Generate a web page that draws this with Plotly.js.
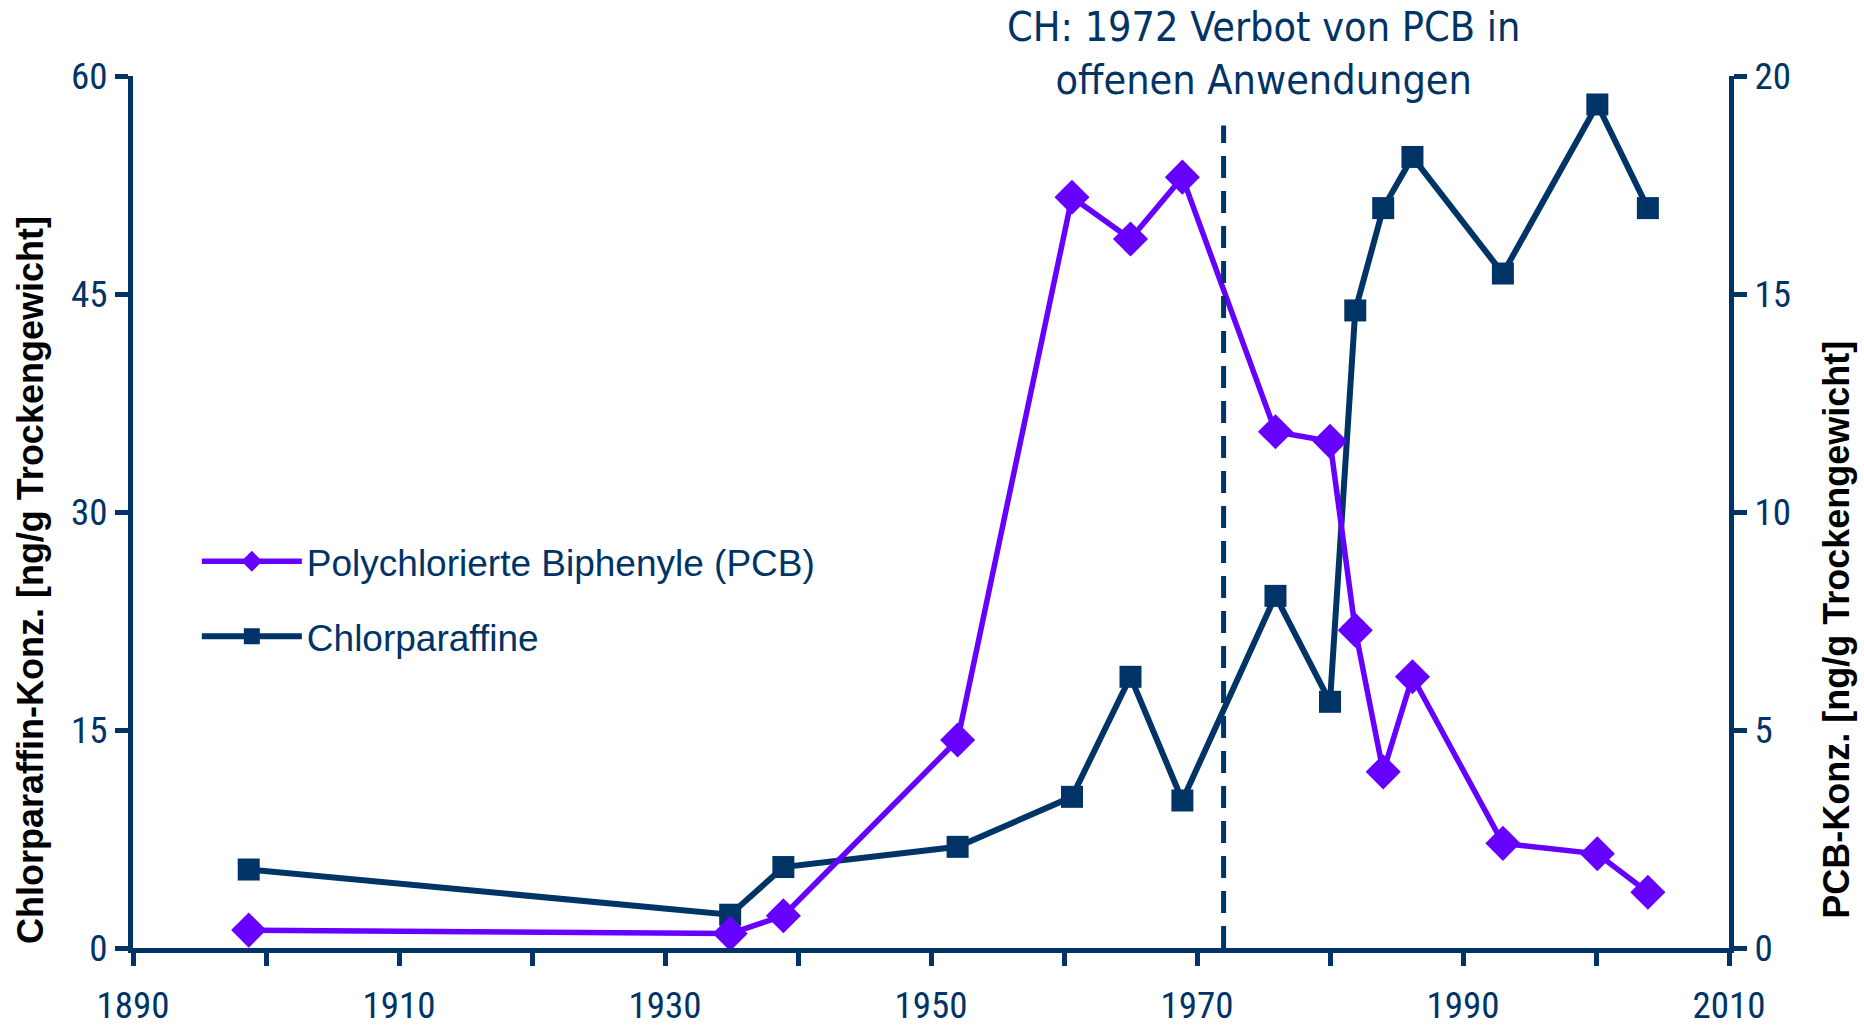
<!DOCTYPE html>
<html>
<head>
<meta charset="utf-8">
<script src="https://cdn.plot.ly/plotly-3.0.1.min.js"></script>
<style>html,body{margin:0;padding:0;background:#fff;}#chart{width:1864px;height:1029px;}</style>
</head>
<body>
<div id="chart"></div>
<script>
// Data
const years = [1898.7, 1934.9, 1938.9, 1952.0, 1960.6, 1965.0, 1968.9, 1975.9, 1980.0, 1981.9, 1984.0, 1986.2, 1993.0, 2000.1, 2003.9];
const pcbValues = [0.41, 0.33, 0.74, 4.77, 17.22, 16.26, 17.68, 11.84, 11.62, 7.29, 4.04, 6.22, 2.40, 2.16, 1.28];
const chlorparaffinValues = [5.40, 2.29, 5.57, 6.96, 10.40, 18.66, 10.15, 24.23, 16.94, 43.87, 50.91, 54.43, 46.41, 58.04, 50.91];
const xTickVals = [1890, 1900, 1910, 1920, 1930, 1940, 1950, 1960, 1970, 1980, 1990, 2000, 2010];
const xTickText = ['1890', '', '1910', '', '1930', '', '1950', '', '1970', '', '1990', '', '2010'];
const leftTicks = [0, 15, 30, 45, 60];
const rightTicks = [0, 5, 10, 15, 20];
const banYear = 1972;
const banLineTop = 56.6;
const seriesNames = ['Polychlorierte Biphenyle (PCB)', 'Chlorparaffine'];
const leftTitle = 'Chlorparaffin-Konz. [ng/g Trockengewicht]';
const rightTitle = 'PCB-Konz. [ng/g Trockengewicht]';
const noteText = 'CH: 1972 Verbot von PCB in<br>offenen Anwendungen';

const NAVY = '#003366';
const PURPLE = '#6600FF';
const tickFont = {family: '"Liberation Sans Narrow", "Roboto Condensed", "DejaVu Sans Condensed", "Liberation Sans", sans-serif', size: 37, color: NAVY};

const traces = [
  {
    x: years, y: pcbValues, name: seriesNames[0], yaxis: 'y2', type: 'scatter', mode: 'lines+markers',
    line: {color: PURPLE, width: 5.5}, marker: {symbol: 'diamond', size: 27, color: PURPLE},
    legendgroup: 'a'
  },
  {
    x: years, y: chlorparaffinValues, name: seriesNames[1], yaxis: 'y', type: 'scatter', mode: 'lines+markers',
    line: {color: NAVY, width: 6}, marker: {symbol: 'square', size: 22, color: NAVY},
    legendgroup: 'b'
  }
];

const layout = {
  width: 1864, height: 1029,
  margin: {l: 133, r: 135, t: 76, b: 81},
  paper_bgcolor: '#fff', plot_bgcolor: '#fff',
  showlegend: true,
  legend: {
    x: 0.04, y: 0.40, xanchor: 'left', yanchor: 'middle',
    font: {family: '"Liberation Sans", Arial, sans-serif', size: 37, color: NAVY},
    bgcolor: 'rgba(0,0,0,0)', itemwidth: 100, traceorder: 'grouped', tracegroupgap: 24
  },
  xaxis: {
    range: [1890, 2010], showgrid: false, zeroline: false,
    showline: true, linecolor: NAVY, linewidth: 5,
    ticks: 'outside', ticklen: 13, tickwidth: 5, tickcolor: NAVY,
    tickvals: xTickVals, ticktext: xTickText, tickfont: tickFont,
    ticklabelstandoff: 8
  },
  yaxis: {
    range: [0, 60], showgrid: false, zeroline: false,
    showline: true, linecolor: NAVY, linewidth: 5,
    ticks: 'outside', ticklen: 13, tickwidth: 5, tickcolor: NAVY,
    tickvals: leftTicks, tickfont: tickFont
  },
  yaxis2: {
    range: [0, 20], overlaying: 'y', side: 'right', showgrid: false, zeroline: false,
    showline: true, linecolor: NAVY, linewidth: 5,
    ticks: 'outside', ticklen: 13, tickwidth: 5, tickcolor: NAVY,
    tickvals: rightTicks, tickfont: tickFont
  },
  shapes: [{
    type: 'line', xref: 'x', yref: 'y', x0: banYear, x1: banYear, y0: 0, y1: banLineTop,
    line: {color: NAVY, width: 5, dash: '22px,13px'}
  }],
  annotations: [
    {
      text: noteText, xref: 'paper', yref: 'paper', x: 0.7086, y: 1.026, xanchor: 'center', yanchor: 'middle',
      showarrow: false, align: 'center',
      font: {family: '"DejaVu Sans Condensed", "DejaVu Sans", sans-serif', size: 41, color: NAVY}
    },
    {
      text: leftTitle, xref: 'paper', yref: 'paper', x: -0.0645, y: 0.422, xanchor: 'center', yanchor: 'middle',
      showarrow: false, textangle: -90,
      font: {family: '"Liberation Sans", Arial, sans-serif', size: 36, color: '#000', weight: 'bold'}
    },
    {
      text: rightTitle, xref: 'paper', yref: 'paper', x: 1.0677, y: 0.365, xanchor: 'center', yanchor: 'middle',
      showarrow: false, textangle: -90,
      font: {family: '"Liberation Sans", Arial, sans-serif', size: 36, color: '#000', weight: 'bold'}
    }
  ]
};

Plotly.newPlot('chart', traces, layout, {displayModeBar: false, staticPlot: true});
</script>
</body>
</html>
